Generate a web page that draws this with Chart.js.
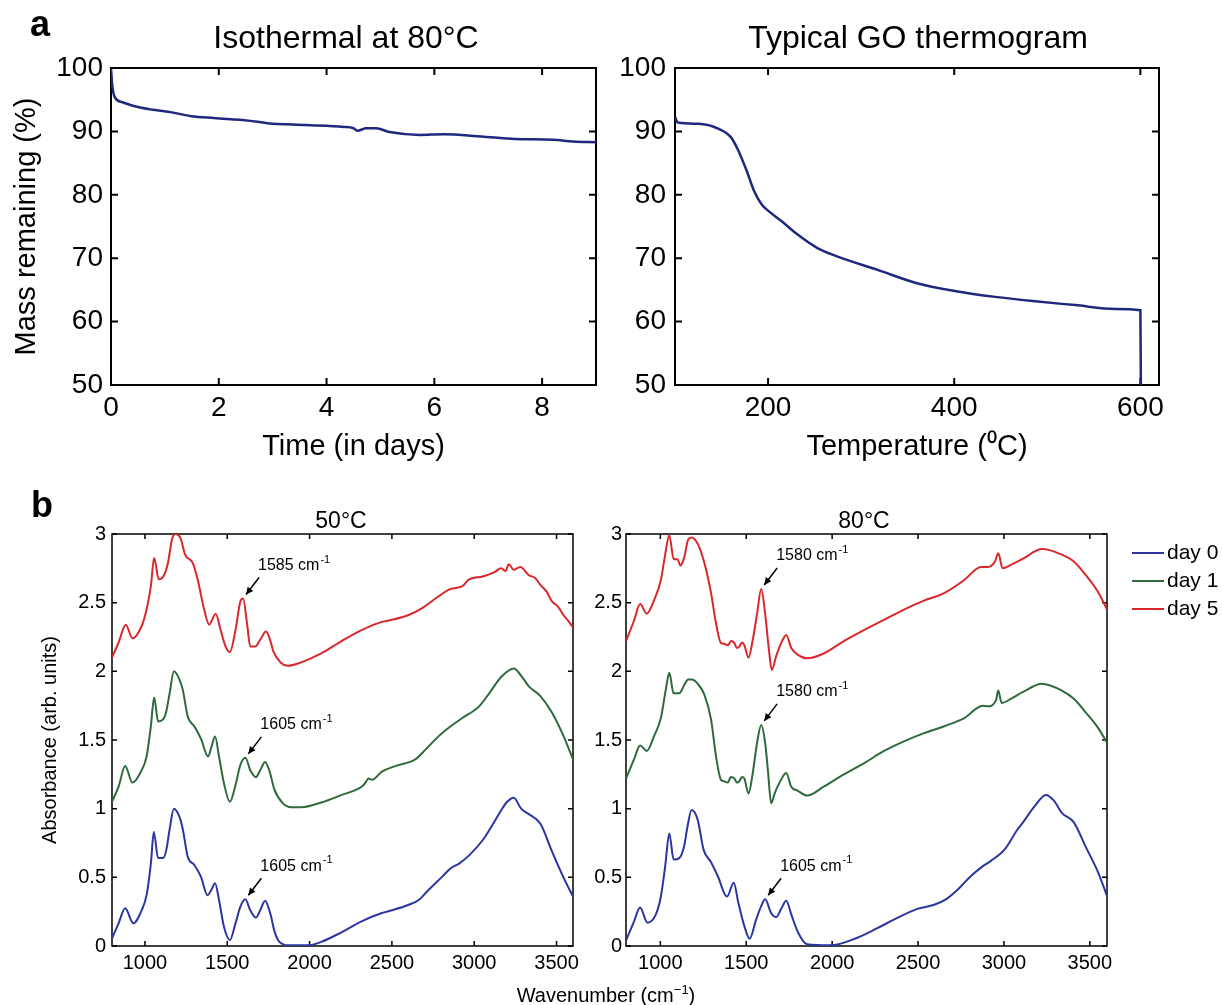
<!DOCTYPE html>
<html>
<head>
<meta charset="utf-8">
<script src="https://cdn.jsdelivr.net/npm/chart.js@4.4.1/dist/chart.umd.min.js"></script>
<style>
  body { margin: 0; background: #fff; width: 1222px; height: 1005px; position: relative; overflow: hidden;
         font-family: 'Liberation Sans', Arial, Helvetica, sans-serif; color: #000; }
  canvas { position: absolute; }
  .t { position: absolute; white-space: nowrap; line-height: 1; transform: translate(-50%, -50%); }
  .leg { position: absolute; left: 1132px; font-size: 21px; line-height: 1; white-space: nowrap; }
  .leg i { display: inline-block; width: 32px; height: 0; border-top: 2px solid; vertical-align: middle; margin-right: 3px; }
</style>
</head>
<body>
<canvas id="isoChart" width="612" height="480" style="left:0;top:0"></canvas>
<canvas id="tgaChart" width="610" height="480" style="left:612px;top:0"></canvas>
<canvas id="ir50Chart" width="600" height="525" style="left:0;top:480px"></canvas>
<canvas id="ir80Chart" width="642" height="525" style="left:580px;top:480px"></canvas>

<div class="t" style="left:40px;top:24px;font-size:36px;font-weight:bold">a</div>
<div class="t" style="left:346px;top:37px;font-size:32px">Isothermal at 80°C</div>
<div class="t" style="left:918px;top:37px;font-size:32px">Typical GO thermogram</div>
<div class="t" style="left:42px;top:505px;font-size:36px;font-weight:bold">b</div>
<div class="t" style="left:341px;top:520px;font-size:23px">50°C</div>
<div class="t" style="left:864px;top:520px;font-size:23px">80°C</div>
<div class="t" style="left:606px;top:994px;font-size:20px">Wavenumber (cm<sup style="font-size:13px">−1</sup>)</div>
<div class="leg" style="top:541px"><i style="border-color:#2c35a0"></i>day 0</div>
<div class="leg" style="top:569px"><i style="border-color:#2e6a3c"></i>day 1</div>
<div class="leg" style="top:597px"><i style="border-color:#d8282c"></i>day 5</div>

<script>
// ---- panel a: isothermal mass loss at 80 C ----
const isoDays = [0, 0.02, 0.07, 0.21, 0.42, 0.78, 1.13, 1.49, 1.91, 2.55, 2.9, 3.61, 4.32, 4.5, 4.57, 4.74, 4.92, 5.17, 5.73, 6.16, 6.87, 7.5, 8.21, 8.57, 9];
const isoMass = [100, 97.5, 95.4, 94.6, 94.0, 93.4, 93.0, 92.4, 92.1, 91.7, 91.3, 91.0, 90.7, 90.5, 90.1, 90.5, 90.5, 89.9, 89.45, 89.55, 89.2, 88.8, 88.7, 88.4, 88.3];
const isoXTicks = [0, 2, 4, 6, 8];
const massTicks = [50, 60, 70, 80, 90, 100];

// ---- panel a: GO thermogram ----
const tgaTemp = [100, 103, 125, 147, 160, 168, 177, 185, 193, 200, 214, 231, 253, 274, 317, 359, 402, 444, 487, 530, 573, 600, 600.5];
const tgaMass = [92.3, 91.4, 91.2, 90.4, 89.1, 87.0, 83.8, 80.6, 78.5, 77.5, 75.9, 73.8, 71.6, 70.3, 68.2, 66.1, 64.8, 63.9, 63.2, 62.6, 62.0, 61.8, 50];
const tgaXTicks = [200, 400, 600];

// ---- panel b: FTIR spectra ----
const wnTicks = [1000, 1500, 2000, 2500, 3000, 3500];
const absTicks = [0, 0.5, 1, 1.5, 2, 2.5, 3];
const seriesLabels = ['day 0', 'day 1', 'day 5'];

const wn50d0 = [800, 840, 880, 930, 980, 1010, 1036, 1054, 1080, 1110, 1130, 1150, 1176, 1210, 1230, 1260, 1300, 1340, 1380, 1404, 1426, 1450, 1480, 1516, 1550, 1580, 1610, 1640, 1674, 1700, 1730, 1765, 1786, 1810, 1840, 1870, 1990, 2071, 2194, 2316, 2439, 2500, 2602, 2663, 2724, 2806, 2857, 2908, 2969, 3051, 3120, 3165, 3200, 3240, 3285, 3332, 3402, 3472, 3542, 3600];
const abs50d0 = [0.056, 0.165, 0.275, 0.165, 0.26, 0.37, 0.6, 0.83, 0.64, 0.64, 0.7, 0.85, 1.0, 0.94, 0.85, 0.65, 0.59, 0.505, 0.37, 0.41, 0.457, 0.335, 0.14, 0.044, 0.165, 0.287, 0.34, 0.26, 0.207, 0.26, 0.33, 0.22, 0.11, 0.04, 0.012, 0.005, 0.005, 0.03, 0.1, 0.18, 0.24, 0.26, 0.3, 0.335, 0.41, 0.505, 0.566, 0.6, 0.66, 0.77, 0.9, 0.99, 1.05, 1.08, 1.0, 0.96, 0.89, 0.69, 0.5, 0.36];

const wn50d1 = [800, 840, 880, 924, 980, 1010, 1036, 1056, 1080, 1110, 1130, 1150, 1176, 1210, 1230, 1260, 1300, 1340, 1384, 1404, 1426, 1450, 1480, 1516, 1550, 1580, 1610, 1640, 1674, 1700, 1730, 1760, 1786, 1837, 1888, 1949, 2071, 2194, 2316, 2340, 2357, 2380, 2439, 2520, 2643, 2704, 2786, 2857, 2928, 3030, 3091, 3165, 3240, 3290, 3332, 3402, 3472, 3542, 3600];
const abs50d1 = [1.05, 1.16, 1.31, 1.19, 1.28, 1.38, 1.6, 1.81, 1.635, 1.65, 1.71, 1.84, 2.0, 1.94, 1.865, 1.67, 1.6, 1.51, 1.38, 1.45, 1.525, 1.38, 1.185, 1.05, 1.17, 1.32, 1.37, 1.28, 1.23, 1.28, 1.34, 1.26, 1.14, 1.04, 1.01, 1.01, 1.045, 1.1, 1.16, 1.19, 1.22, 1.21, 1.27, 1.31, 1.36, 1.43, 1.53, 1.6, 1.66, 1.745, 1.84, 1.96, 2.02, 1.96, 1.89, 1.82, 1.7, 1.53, 1.36];

const wn50d5 = [800, 840, 884, 924, 980, 1010, 1036, 1056, 1084, 1116, 1140, 1164, 1184, 1216, 1244, 1290, 1320, 1356, 1390, 1430, 1460, 1490, 1516, 1550, 1580, 1596, 1620, 1640, 1670, 1700, 1736, 1760, 1780, 1827, 1867, 1949, 2071, 2194, 2316, 2439, 2500, 2602, 2684, 2765, 2857, 2928, 2969, 3051, 3120, 3165, 3190, 3210, 3240, 3280, 3332, 3370, 3402, 3440, 3472, 3510, 3542, 3570, 3600];
const abs50d5 = [2.1, 2.21, 2.34, 2.24, 2.33, 2.45, 2.62, 2.825, 2.67, 2.7, 2.79, 2.96, 3.0, 2.97, 2.85, 2.79, 2.67, 2.47, 2.34, 2.42, 2.3, 2.18, 2.14, 2.3, 2.51, 2.53, 2.35, 2.18, 2.18, 2.23, 2.29, 2.23, 2.145, 2.06, 2.04, 2.065, 2.13, 2.22, 2.3, 2.36, 2.375, 2.41, 2.46, 2.53, 2.6, 2.62, 2.67, 2.69, 2.72, 2.75, 2.73, 2.78, 2.74, 2.76, 2.7, 2.68, 2.63, 2.58, 2.51, 2.47, 2.41, 2.37, 2.32];

const wn80d0 = [800, 847, 882, 925, 974, 1003, 1028, 1052, 1077, 1110, 1139, 1158, 1182, 1217, 1252, 1295, 1334, 1388, 1427, 1454, 1489, 1520, 1557, 1587, 1610, 1645, 1674, 1703, 1733, 1762, 1801, 1854, 1990, 2146, 2263, 2380, 2496, 2594, 2662, 2730, 2808, 2876, 2924, 3002, 3080, 3111, 3180, 3244, 3290, 3337, 3407, 3477, 3547, 3600];
const abs80d0 = [0.04, 0.18, 0.28, 0.17, 0.23, 0.36, 0.58, 0.82, 0.63, 0.64, 0.73, 0.87, 0.99, 0.92, 0.7, 0.61, 0.51, 0.36, 0.46, 0.315, 0.145, 0.053, 0.19, 0.29, 0.34, 0.24, 0.21, 0.27, 0.33, 0.23, 0.1, 0.012, 0.005, 0.06, 0.13, 0.205, 0.27, 0.3, 0.34, 0.41, 0.51, 0.58, 0.62, 0.7, 0.85, 0.9, 1.02, 1.1, 1.06, 0.97, 0.9, 0.72, 0.54, 0.365];

const wn80d1 = [800, 847, 882, 921, 964, 1003, 1032, 1052, 1077, 1110, 1139, 1162, 1182, 1217, 1256, 1295, 1324, 1353, 1370, 1392, 1410, 1431, 1445, 1460, 1475, 1489, 1513, 1538, 1563, 1587, 1610, 1626, 1645, 1665, 1694, 1733, 1762, 1801, 1854, 1951, 2068, 2185, 2302, 2418, 2535, 2652, 2769, 2876, 2905, 2954, 2967, 2987, 3041, 3111, 3221, 3337, 3407, 3477, 3547, 3600];
const abs80d1 = [1.22, 1.36, 1.46, 1.42, 1.53, 1.66, 1.87, 1.99, 1.84, 1.84, 1.9, 1.94, 1.94, 1.91, 1.83, 1.65, 1.38, 1.21, 1.2, 1.19, 1.23, 1.22, 1.19, 1.2, 1.23, 1.22, 1.11, 1.26, 1.48, 1.61, 1.48, 1.28, 1.04, 1.11, 1.19, 1.26, 1.16, 1.13, 1.095, 1.16, 1.25, 1.33, 1.42, 1.49, 1.55, 1.6, 1.66, 1.75, 1.745, 1.79, 1.86, 1.77, 1.8, 1.85, 1.91, 1.86, 1.8, 1.7, 1.59, 1.48];

const wn80d5 = [800, 847, 882, 921, 964, 1003, 1028, 1052, 1077, 1101, 1116, 1139, 1162, 1182, 1217, 1256, 1295, 1324, 1353, 1372, 1392, 1412, 1431, 1445, 1460, 1475, 1489, 1513, 1538, 1563, 1587, 1610, 1630, 1649, 1674, 1703, 1733, 1762, 1801, 1854, 1951, 2068, 2185, 2302, 2418, 2535, 2652, 2769, 2866, 2905, 2948, 2967, 2992, 3041, 3111, 3221, 3337, 3407, 3477, 3547, 3600];
const abs80d5 = [2.22, 2.37, 2.49, 2.42, 2.52, 2.665, 2.85, 2.99, 2.82, 2.815, 2.77, 2.83, 2.96, 2.975, 2.93, 2.79, 2.57, 2.35, 2.205, 2.2, 2.19, 2.22, 2.205, 2.17, 2.18, 2.21, 2.19, 2.1, 2.23, 2.42, 2.6, 2.42, 2.18, 2.01, 2.11, 2.205, 2.265, 2.17, 2.12, 2.095, 2.13, 2.22, 2.3, 2.375, 2.45, 2.515, 2.57, 2.665, 2.76, 2.76, 2.8, 2.86, 2.75, 2.775, 2.82, 2.89, 2.85, 2.8, 2.7, 2.58, 2.45];

// peak annotations: wavenumber / absorbance of the marked peak, and its label
const peaks50Wn = [1596, 1610, 1610];
const peaks50Abs = [2.53, 1.37, 0.34];
const peaks50Labels = ['1585', '1605', '1605'];
const peaks80Wn = [1587, 1587, 1610];
const peaks80Abs = [2.6, 1.61, 0.34];
const peaks80Labels = ['1580', '1580', '1605'];

const FONT = "'Liberation Sans', Arial, Helvetica, sans-serif";
Chart.defaults.font.family = FONT;
Chart.defaults.color = '#000';

const BLUE = '#2c35a0', GREEN = '#2e6a3c', RED = '#d8282c', NAVY = '#20287e';

// matlab style box with inward ticks on all four sides (drawn under the data)
const frame = {
  id: 'frame',
  beforeDatasetsDraw(chart, args, o) {
    const { ctx, chartArea: a, scales: { x, y } } = chart;
    ctx.save();
    ctx.strokeStyle = '#000';
    ctx.lineWidth = o.width;
    ctx.strokeRect(a.left, a.top, a.right - a.left, a.bottom - a.top);
    ctx.beginPath();
    x.ticks.forEach(t => {
      const p = x.getPixelForValue(t.value);
      ctx.moveTo(p, a.bottom); ctx.lineTo(p, a.bottom - o.len);
      ctx.moveTo(p, a.top); ctx.lineTo(p, a.top + o.len);
    });
    y.ticks.forEach(t => {
      const p = y.getPixelForValue(t.value);
      ctx.moveTo(a.left, p); ctx.lineTo(a.left + o.len, p);
      ctx.moveTo(a.right, p); ctx.lineTo(a.right - o.len, p);
    });
    ctx.stroke();
    ctx.restore();
  }
};

// arrows + labels pointing at a peak
const peakNotes = {
  id: 'peakNotes',
  afterDatasetsDraw(chart, args, o) {
    if (!o.wn) return;
    const { ctx, scales: { x, y } } = chart;
    ctx.save();
    ctx.strokeStyle = '#000'; ctx.fillStyle = '#000'; ctx.lineWidth = 1.5;
    o.wn.forEach((w, i) => {
      const hx = x.getPixelForValue(w) + 3, hy = y.getPixelForValue(o.abs[i]) - 4;
      const tx = hx + 13, ty = hy - 17;
      ctx.beginPath(); ctx.moveTo(tx, ty); ctx.lineTo(hx, hy); ctx.stroke();
      const ang = Math.atan2(hy - ty, hx - tx);
      ctx.beginPath();
      ctx.moveTo(hx, hy);
      ctx.lineTo(hx - 8 * Math.cos(ang - 0.45), hy - 8 * Math.sin(ang - 0.45));
      ctx.lineTo(hx - 8 * Math.cos(ang + 0.45), hy - 8 * Math.sin(ang + 0.45));
      ctx.closePath(); ctx.fill();
      ctx.font = `16px ${FONT}`; ctx.textAlign = 'left'; ctx.textBaseline = 'middle';
      const s = o.labels[i] + ' cm';
      ctx.fillText(s, hx + 12, hy - 29);
      const sw = ctx.measureText(s).width;
      ctx.font = `11px ${FONT}`;
      ctx.fillText('-1', hx + 12 + sw + 1, hy - 35);
    });
    ctx.restore();
  }
};

function series(xs, ys, color, width, label) {
  return {
    label, data: xs.map((v, i) => ({ x: v, y: ys[i] })),
    borderColor: color, backgroundColor: color, borderWidth: width,
    pointRadius: 0, fill: false, cubicInterpolationMode: 'monotone'
  };
}

function scale(o) {
  return {
    type: 'linear', min: o.min, max: o.max,
    afterBuildTicks: s => { s.ticks = o.ticks.map(v => ({ value: v })); },
    afterFit: s => { if (o.w != null) s.width = o.w; if (o.h != null) s.height = o.h; },
    grid: { display: false, drawTicks: false },
    border: { display: false },
    ticks: { font: { size: o.fs }, padding: o.pad, color: '#000', maxRotation: 0, autoSkip: false, callback: v => String(v) },
    title: o.title
      ? { display: true, text: o.title, color: '#000', font: { size: o.tfs }, padding: o.tpad }
      : { display: false }
  };
}

function draw(id, datasets, x, y, padding, frameOpt, notes) {
  return new Chart(document.getElementById(id), {
    type: 'line',
    data: { datasets },
    options: {
      responsive: false, animation: false, devicePixelRatio: 1,
      layout: { padding },
      scales: { x: scale(x), y: scale(y) },
      plugins: { legend: { display: false }, tooltip: { enabled: false }, frame: frameOpt, peakNotes: notes || {} }
    },
    plugins: [frame, peakNotes]
  });
}

// panel a
draw('isoChart', [series(isoDays, isoMass, NAVY, 2.5, 'mass')],
  { min: 0, max: 9, ticks: isoXTicks, fs: 28, pad: 6, h: 95, title: 'Time (in days)', tfs: 29, tpad: { bottom: 16 } },
  { min: 50, max: 100, ticks: massTicks, fs: 28, pad: 8, w: 111, title: 'Mass remaining (%)', tfs: 29, tpad: { top: 10 } },
  { top: 68, right: 16, left: 0, bottom: 0 }, { width: 2, len: 7 });

draw('tgaChart', [series(tgaTemp, tgaMass, NAVY, 2.5, 'mass')],
  { min: 100, max: 620, ticks: tgaXTicks, fs: 28, pad: 6, h: 95, title: 'Temperature (\u2070C)', tfs: 29, tpad: { bottom: 16 } },
  { min: 50, max: 100, ticks: massTicks, fs: 28, pad: 9, w: 63 },
  { top: 68, right: 63, left: 0, bottom: 0 }, { width: 2, len: 7 });

// panel b
draw('ir50Chart', [
    series(wn50d0, abs50d0, BLUE, 2, seriesLabels[0]),
    series(wn50d1, abs50d1, GREEN, 2, seriesLabels[1]),
    series(wn50d5, abs50d5, RED, 2, seriesLabels[2])],
  { min: 800, max: 3600, ticks: wnTicks, fs: 20, pad: 5, h: 59 },
  { min: 0, max: 3, ticks: absTicks, fs: 20, pad: 6, w: 112, title: 'Absorbance (arb. units)', tfs: 20, tpad: { top: 38 } },
  { top: 54, right: 27, left: 0, bottom: 0 }, { width: 1.5, len: 5 },
  { wn: peaks50Wn, abs: peaks50Abs, labels: peaks50Labels });

draw('ir80Chart', [
    series(wn80d0, abs80d0, BLUE, 2, seriesLabels[0]),
    series(wn80d1, abs80d1, GREEN, 2, seriesLabels[1]),
    series(wn80d5, abs80d5, RED, 2, seriesLabels[2])],
  { min: 800, max: 3600, ticks: wnTicks, fs: 20, pad: 5, h: 59 },
  { min: 0, max: 3, ticks: absTicks, fs: 20, pad: 4, w: 46 },
  { top: 54, right: 115, left: 0, bottom: 0 }, { width: 1.5, len: 5 },
  { wn: peaks80Wn, abs: peaks80Abs, labels: peaks80Labels });
</script>
</body>
</html>
